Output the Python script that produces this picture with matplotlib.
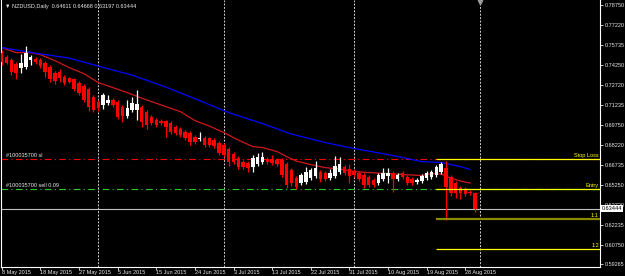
import matplotlib
matplotlib.use('Agg')
import matplotlib.pyplot as plt
import matplotlib.transforms as mtransforms
import numpy as np

# ── MT4 style dark chart ─────
plt.rcParams.update({
    'font.family': ['Liberation Sans', 'DejaVu Sans'],
    'font.size': 4,
})

BG = '#000000'
FG = '#e8e8e8'
BULL = '#ffffff'
BEAR = '#ff0000'
MA_FAST = '#d01818'
MA_SLOW = '#0000ff'
YELLOW = '#ffff00'
OLIVE = '#8a8a00'

# NZDUSD daily bars, 8 May 2015 .. 31 Aug 2015 (Sunday bars included)
opens = [0.7515, 0.7485, 0.74625, 0.74325, 0.74025, 0.7410, 0.74625, 0.7470, 0.74625, 0.7440,
         0.7410, 0.7365, 0.73725, 0.7335, 0.73275, 0.7320, 0.7290, 0.72675, 0.7245, 0.7185,
         0.71475, 0.7125, 0.7140, 0.71625, 0.71475, 0.7110, 0.70425, 0.70875, 0.70875, 0.7110,
         0.70725, 0.7035, 0.70125, 0.7005, 0.7005, 0.6990, 0.6960, 0.6945, 0.69225, 0.6915,
         0.6885, 0.6870, 0.68775, 0.68775, 0.68625, 0.6840, 0.6825, 0.6795, 0.67575, 0.67275,
         0.66975, 0.6690, 0.6660, 0.66825, 0.66975, 0.6720, 0.6720, 0.67125, 0.67125, 0.66825,
         0.66375, 0.65775, 0.6540, 0.65475, 0.65775, 0.65925, 0.66225, 0.6615, 0.65775, 0.65925,
         0.66225, 0.6660, 0.6645, 0.6630, 0.6615, 0.6600, 0.6585, 0.65625, 0.6540, 0.6570,
         0.65925, 0.6615, 0.6570, 0.6615, 0.6585, 0.6570, 0.65475, 0.6555, 0.65775, 0.6585,
         0.6600, 0.66225, 0.66525, 0.6585, 0.6540, 0.65025, 0.6495, 0.64725, 0.64611]
highs = [0.75375, 0.7500, 0.74775, 0.74475, 0.75075, 0.75675, 0.7500, 0.7485, 0.74775, 0.7455,
         0.7425, 0.7380, 0.7395, 0.7350, 0.7335, 0.73275, 0.7305, 0.72825, 0.7260, 0.7200,
         0.71625, 0.7215, 0.7200, 0.71775, 0.71625, 0.7125, 0.71625, 0.7185, 0.72375, 0.7125,
         0.70875, 0.7050, 0.70275, 0.7020, 0.70125, 0.7005, 0.6975, 0.6960, 0.69375, 0.6930,
         0.6900, 0.69225, 0.68925, 0.6885, 0.68775, 0.6855, 0.6840, 0.6810, 0.67725, 0.67425,
         0.67125, 0.6705, 0.6750, 0.6765, 0.67725, 0.6735, 0.6750, 0.67275, 0.67275, 0.66975,
         0.66525, 0.65925, 0.6615, 0.6660, 0.66525, 0.6705, 0.66375, 0.6630, 0.6645, 0.67425,
         0.6735, 0.6675, 0.66825, 0.6645, 0.6630, 0.6615, 0.6600, 0.65775, 0.6615, 0.66525,
         0.66525, 0.6630, 0.6615, 0.6630, 0.6600, 0.6585, 0.65775, 0.66075, 0.6630, 0.66375,
         0.6675, 0.66975, 0.6705, 0.6600, 0.6555, 0.65175, 0.6510, 0.64875, 0.64668]
lows = [0.7425, 0.74325, 0.7350, 0.7320, 0.7365, 0.7395, 0.7425, 0.74325, 0.74025, 0.7335,
        0.72975, 0.72825, 0.72975, 0.7275, 0.7290, 0.7230, 0.7200, 0.71475, 0.7080, 0.70725,
        0.7080, 0.7095, 0.7125, 0.7110, 0.7020, 0.69975, 0.70275, 0.70725, 0.70125, 0.6960,
        0.6945, 0.6975, 0.6960, 0.6975, 0.6885, 0.69075, 0.6900, 0.6885, 0.68625, 0.6825,
        0.68325, 0.6855, 0.6810, 0.6810, 0.68025, 0.6750, 0.6735, 0.66675, 0.66825, 0.6645,
        0.6645, 0.66225, 0.66225, 0.66675, 0.66825, 0.66825, 0.6675, 0.66675, 0.6585, 0.65025,
        0.65175, 0.6495, 0.6525, 0.65325, 0.65625, 0.65775, 0.65475, 0.6555, 0.65625, 0.65775,
        0.66075, 0.6600, 0.6540, 0.6585, 0.6555, 0.65025, 0.6510, 0.6510, 0.6525, 0.6555,
        0.6540, 0.64725, 0.6555, 0.6570, 0.6525, 0.6525, 0.65325, 0.6540, 0.65625, 0.6570,
        0.6585, 0.66075, 0.62625, 0.64425, 0.64275, 0.6420, 0.64425, 0.6450, 0.63197]
closes = [0.74475, 0.7440, 0.73725, 0.7365, 0.7440, 0.7515, 0.7485, 0.74475, 0.74175, 0.73725,
          0.7320, 0.7305, 0.73275, 0.7290, 0.72975, 0.7245, 0.7215, 0.71625, 0.7110, 0.70875,
          0.71025, 0.7200, 0.71625, 0.7125, 0.7035, 0.70425, 0.71025, 0.7140, 0.71325, 0.69975,
          0.6975, 0.6990, 0.6975, 0.6990, 0.6960, 0.69225, 0.6915, 0.6900, 0.68775, 0.68475,
          0.68475, 0.68775, 0.6825, 0.6825, 0.68175, 0.6765, 0.6750, 0.66975, 0.66975, 0.6660,
          0.6660, 0.66525, 0.67275, 0.6735, 0.6735, 0.66975, 0.6690, 0.66825, 0.6600, 0.6525,
          0.6540, 0.6510, 0.6600, 0.66225, 0.66375, 0.66525, 0.6570, 0.6570, 0.6615, 0.66675,
          0.66825, 0.6615, 0.65925, 0.6600, 0.6570, 0.6525, 0.6525, 0.6525, 0.6600, 0.6615,
          0.6615, 0.6570, 0.6600, 0.6585, 0.6540, 0.6540, 0.65625, 0.65925, 0.6615, 0.66225,
          0.6660, 0.66825, 0.6510, 0.6465, 0.6465, 0.6465, 0.64575, 0.6465, 0.63444]

# moving averages, read at sample bars
ma_fast_idx = [0, 3, 6, 8, 11, 14, 17, 20, 23, 26, 29, 31, 34, 37, 40, 43, 46, 49, 52, 54,
               57, 59, 61, 64, 67, 70, 73, 76, 80, 83, 87, 89, 91, 93, 95, 97]
ma_fast = [0.75525, 0.7515, 0.7515, 0.7500, 0.7455, 0.74025, 0.73575, 0.7290, 0.72525, 0.7215,
           0.71738, 0.71475, 0.7110, 0.70725, 0.7005, 0.69638, 0.6915, 0.68588, 0.6810, 0.68025,
           0.67725, 0.6735, 0.67013, 0.6675, 0.6652, 0.66413, 0.66225, 0.6615, 0.66075, 0.6600,
           0.65925, 0.66075, 0.66038, 0.65738, 0.65513, 0.65363]
ma_slow_idx = [0, 7, 14, 20, 27, 34, 40, 47, 54, 60, 67, 73, 80, 87, 91, 95, 97]
ma_slow = [0.75525, 0.75113, 0.74738, 0.74138, 0.73463, 0.72563, 0.7170, 0.7065, 0.69825,
           0.69038, 0.6840, 0.6795, 0.6750, 0.66975, 0.6690, 0.6660, 0.66375]

date_idx = [0, 8, 16, 24, 32, 40, 48, 56, 64, 72, 80, 88, 96]
date_labels = ['8 May 2015', '18 May 2015', '27 May 2015', '5 Jun 2015', '15 Jun 2015',
               '24 Jun 2015', '3 Jul 2015', '13 Jul 2015', '22 Jul 2015', '31 Jul 2015',
               '10 Aug 2015', '19 Aug 2015', '28 Aug 2015']
month_start_idx = [20, 46, 73, 99]
price_ticks = [0.78750, 0.77220, 0.75735, 0.74250, 0.72720, 0.71235, 0.69750,
               0.68220, 0.66735, 0.65250, 0.63720, 0.62235, 0.60750, 0.59265]

order_sl = 0.6718
order_entry = 0.6493
target_1 = 0.6268
target_2 = 0.6043
trade_start = 90
last_price = 0.63444

fig = plt.figure(figsize=(6.25, 2.76), dpi=100, facecolor=BG)
ax = fig.add_axes([1 / 625, 9.5 / 276, 599 / 625, 266.5 / 276], facecolor=BG)

x = np.arange(len(closes))
o = np.array(opens); h = np.array(highs); l = np.array(lows); c = np.array(closes)
up = c >= o
cols = np.where(up, BULL, BEAR)

ax.vlines(x, l, h, colors=cols, linewidth=0.9, zorder=3)
body = np.maximum(np.abs(c - o), 0.0006)
ax.bar(x, body, bottom=np.minimum(o, c), width=0.72, color=cols, linewidth=0, zorder=4)

ax.plot(ma_fast_idx, ma_fast, color=MA_FAST, lw=0.9, zorder=2)
ax.plot(ma_slow_idx, ma_slow, color=MA_SLOW, lw=0.9, zorder=2)

for m in month_start_idx:
    ax.axvline(m, color='#d0d0d0', lw=0.7, linestyle=(0, (2, 1.5)), zorder=1)

# order lines
ax.axhline(order_sl, color='#ff0000', lw=0.8, linestyle=(0, (6, 3, 1, 3)), zorder=1)
ax.axhline(order_entry, color='#22cc22', lw=0.8, linestyle=(0, (6, 3, 1, 3)), zorder=1)
ax.axhline(last_price, color='#c0c0c0', lw=0.8, zorder=1)

xr = 123.9
ax.hlines([order_sl, order_entry, target_2], trade_start, xr, colors=YELLOW, lw=0.9, zorder=5)
ax.hlines(target_1, trade_start, xr, colors=OLIVE, lw=1.6, zorder=5)

ax.set_xlim(-0.15, xr)
ax.set_ylim(0.5910, 0.7910)

blend = mtransforms.blended_transform_factory(ax.transAxes, ax.transData)
for txt, yv, col in [('Stop Loss', order_sl, YELLOW), ('Entry', order_entry, YELLOW),
                     ('1:1', target_1, YELLOW), ('1:2', target_2, YELLOW)]:
    ax.annotate(txt, xy=(0.998, yv), xycoords=blend, xytext=(0, 0.6), textcoords='offset points',
                ha='right', va='bottom', color=col, fontsize=4, zorder=6)
ax.annotate('#100035700 sl', xy=(0.008, order_sl), xycoords=blend, xytext=(0, 0.8),
            textcoords='offset points', ha='left', va='bottom', color=FG, fontsize=4)
ax.annotate('#100035700 sell 0.09', xy=(0.008, order_entry), xycoords=blend, xytext=(0, 0.8),
            textcoords='offset points', ha='left', va='bottom', color=FG, fontsize=4)

ax.text(0.006, 0.985, '\u25BC NZDUSD,Daily  0.64611 0.64668 0.63197 0.63444', transform=ax.transAxes,
        ha='left', va='top', color=FG, fontsize=4)

# chart shift marker
ax.plot(99, 0.7898, marker='v', color='#9a9a9a', ms=3.2, clip_on=False, zorder=6)

# axes frame
ax.spines['top'].set_visible(False)
for s in ['left', 'right', 'bottom']:
    ax.spines[s].set_color('#ffffff')
    ax.spines[s].set_linewidth(0.8)

ax.yaxis.tick_right()
ax.set_yticks(price_ticks)
ax.set_yticklabels(['%.5f' % p for p in price_ticks])
ax.tick_params(axis='y', colors=FG, length=2.2, width=0.6, pad=1, labelsize=4, labelcolor=FG)
ax.set_xticks(date_idx)
ax.set_xticklabels(date_labels)
ax.tick_params(axis='x', colors=FG, length=2, width=0.6, pad=0.8, labelsize=4, labelcolor=FG)
for lab in ax.get_xticklabels():
    lab.set_ha('left')

# current price tag sits over the scale, as in the terminal
ax.text(1.003, last_price, '0.63444', transform=blend, ha='left', va='center', color='black',
        fontsize=4, bbox=dict(boxstyle='square,pad=0.15', facecolor='white', edgecolor='none'),
        clip_on=False, zorder=7)

fig.savefig('out.png', dpi=100, facecolor=BG)
